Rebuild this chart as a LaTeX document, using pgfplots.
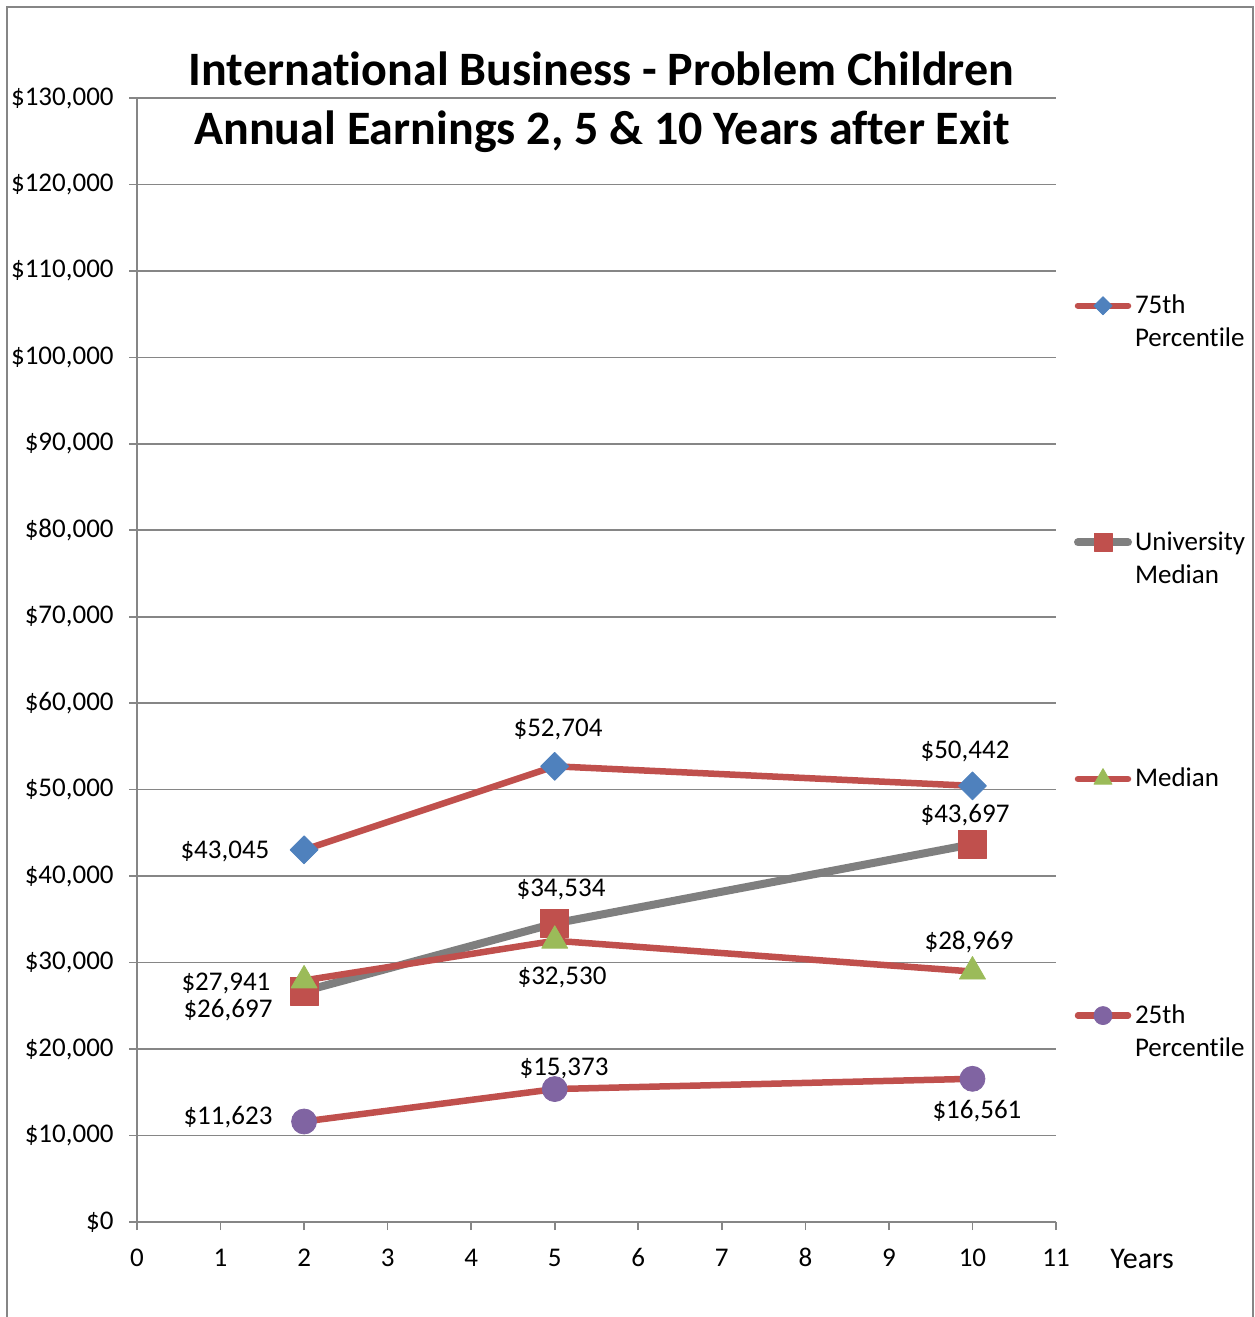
\documentclass[border=0pt]{standalone}
\usepackage{fontspec}
\setmainfont{Carlito}[Ligatures=NoCommon]
\usepackage{pgfplots}
\pgfplotsset{compat=1.18}
\definecolor{lred}{HTML}{C0504D}
\definecolor{lblue}{HTML}{4F81BD}
\definecolor{lgreen}{HTML}{9BBB59}
\definecolor{lpurple}{HTML}{8064A2}
\definecolor{lgray}{HTML}{7F7F7F}
\definecolor{gridc}{HTML}{868686}
\newcommand\legtext[2]{\rule[-0.7pt]{0pt}{10pt}\smash{\begin{tabular}[t]{@{}l@{}}#1\\#2\end{tabular}}}
\begin{document}
\begin{tikzpicture}[font=\fontsize{13.5}{16.5}\selectfont, dl/.style={yshift=-1.2pt}]
\begin{axis}[name=ax, scale only axis, width=459.5pt, height=562pt,
  xmin=0, xmax=11, ymin=0, ymax=130000,
  axis x line*=bottom, axis y line*=left,
  xtick={0,1,...,11}, ytick={0,10000,...,130000},
  scaled y ticks=false,
  yticklabels={{\$0},{\$10,000},{\$20,000},{\$30,000},{\$40,000},{\$50,000},{\$60,000},{\$70,000},{\$80,000},{\$90,000},{\$100,000},{\$110,000},{\$120,000},{\$130,000}},
  /pgf/number format/assume math mode=true,
  ymajorgrids, grid style={gridc, line width=0.8pt},
  tick align=outside, major tick length=4pt,
  tick style={gridc, line width=0.8pt},
  x axis line style={gridc, line width=1pt},
  y axis line style={gridc, line width=0.6pt},
  yticklabel style={anchor=east, inner sep=0pt, xshift=-7.5pt},
  xticklabel style={anchor=base, inner sep=0pt, yshift=-18pt},
  xlabel={Years},
  xlabel style={at={(rel axis cs:1,0)}, anchor=west, inner sep=0pt, xshift=27pt, yshift=-18.5pt, font=\fontsize{15}{18}\selectfont},
  legend style={at={(rel axis cs:1,1)}, anchor=north west, xshift=9pt, yshift=-98.5pt,
    draw=none, fill=none, inner sep=0pt, outer sep=0pt, column sep=1.5pt, row sep=107.5pt,
    nodes={inner sep=0pt, outer sep=0pt}},
  legend cell align=left,
  legend image code/.code={\draw[mark repeat=2,mark phase=2,line cap=round] plot coordinates {(1.5pt,0pt) (14pt,0pt) (26.5pt,0pt)};},
]
\addplot[lred, line width=3.25pt, line join=round, mark=square*, mark size=4.95pt,
  mark options={fill=lblue, draw=lblue, rotate=45, line width=0.4pt, solid},
  legend image post style={mark size=3.2pt}]
  coordinates {(2,43045)(5,52704)(10,50442)};
\addlegendentry{\legtext{75th}{Percentile}}
\addplot[lgray, line width=4pt, line join=round, mark=square*, mark size=7pt,
  mark options={fill=lred, draw=lred, line width=0.4pt, solid},
  legend image post style={mark size=4.5pt}]
  coordinates {(2,26697)(5,34534)(10,43697)};
\addlegendentry{\legtext{University}{Median}}
\addplot[lred, line width=3.25pt, line join=round, mark=triangle*, mark size=7.5pt,
  mark options={fill=lgreen, draw=lgreen, line width=0.4pt, solid},
  legend image post style={mark size=5.2pt}]
  coordinates {(2,27941)(5,32530)(10,28969)};
\addlegendentry{\legtext{Median}{}}
\addplot[lred, line width=3.25pt, line join=round, mark=*, mark size=6.25pt,
  mark options={fill=lpurple, draw=lpurple, line width=0.4pt, solid},
  legend image post style={mark size=4.5pt}]
  coordinates {(2,11623)(5,15373)(10,16561)};
\addlegendentry{\legtext{25th}{Percentile}}
% data labels
\node[dl] at (axis cs:1.053,43141) {\$43,045};
\node[dl] at (axis cs:5.039,57251) {\$52,704};
\node[dl] at (axis cs:9.911,54707) {\$50,442};
\node[dl] at (axis cs:1.089,24751) {\$26,697};
\node[dl] at (axis cs:5.075,38746) {\$34,534};
\node[dl] at (axis cs:9.911,47305) {\$43,697};
\node[dl] at (axis cs:1.065,27874) {\$27,941};
\node[dl] at (axis cs:5.087,28568) {\$32,530};
\node[dl] at (axis cs:9.959,32616) {\$28,969};
\node[dl] at (axis cs:1.089,12376) {\$11,623};
\node[dl] at (axis cs:5.111,18043) {\$15,373};
\node[dl] at (axis cs:10.054,13070) {\$16,561};
\end{axis}
\node[anchor=base, inner sep=0pt, font=\fontsize{24}{30}\selectfont\bfseries] at ([shift={(232.25pt,6pt)}]ax.north west) {International Business - Problem Children};
\node[anchor=base, inner sep=0pt, font=\fontsize{24}{30}\selectfont\bfseries] at ([shift={(232.5pt,-23.5pt)}]ax.north west) {Annual Earnings 2, 5 \& 10 Years after Exit};
\pgfresetboundingbox
\path[use as bounding box] ([shift={(-68.5pt,-47.5pt)}]ax.south west) rectangle ([shift={(99.5pt,49pt)}]ax.north east);
\draw[gridc, line width=1pt] ([shift={(-65pt,-60pt)}]ax.south west) -- ([shift={(-65pt,45.5pt)}]ax.north west) -- ([shift={(98.5pt,45.5pt)}]ax.north east) -- ([shift={(98.5pt,-60pt)}]ax.south east);
\end{tikzpicture}
\end{document}
